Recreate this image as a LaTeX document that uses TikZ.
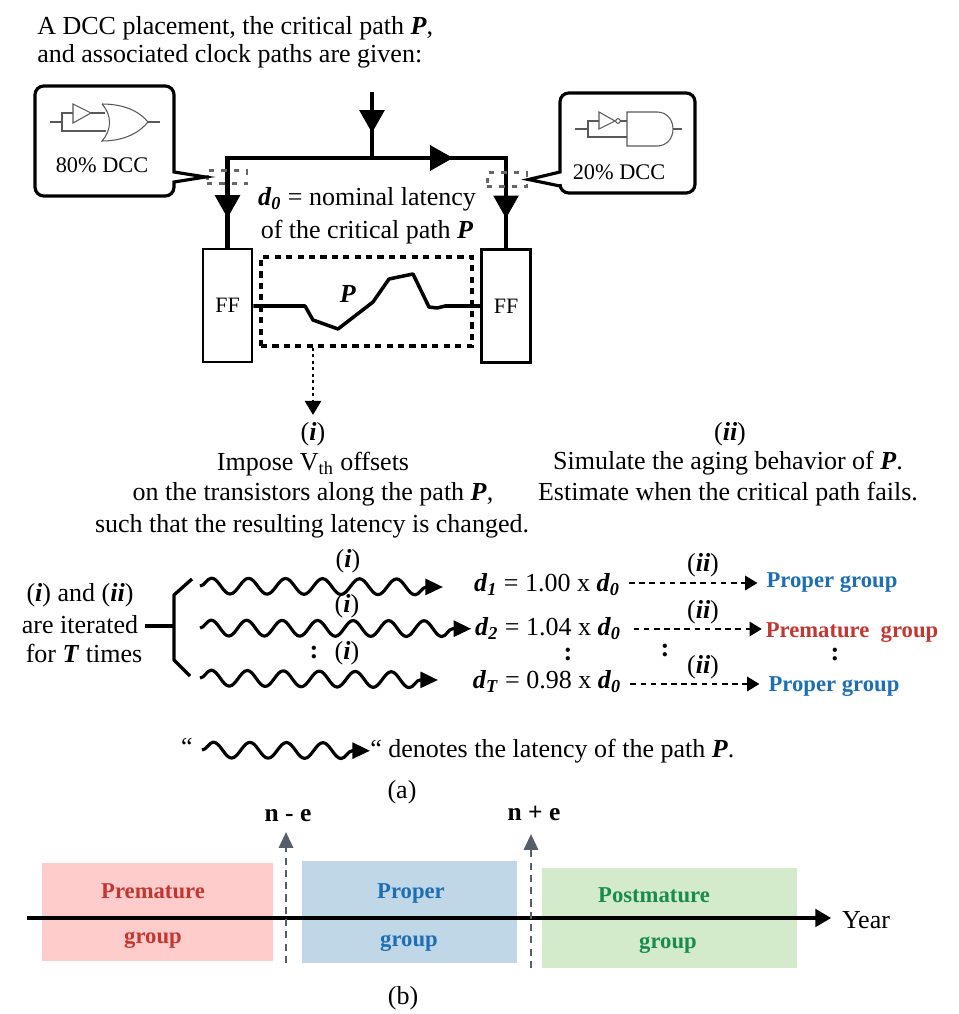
\documentclass[tikz,border=0pt]{standalone}
\usepackage{fontspec}
\setmainfont{Liberation Serif}
\usetikzlibrary{
  arrows.meta,
  decorations.pathmorphing,
  decorations.markings
}
\definecolor{propercol}{RGB}{30,110,180}
\definecolor{prematcol}{RGB}{195,55,50}
\definecolor{postcol}{RGB}{25,140,75}
\definecolor{prematfill}{RGB}{255,204,204}
\definecolor{properfill}{RGB}{192,215,231}
\definecolor{postfill}{RGB}{211,235,203}
\definecolor{markgray}{RGB}{85,95,105}
\newcommand{\bi}[1]{\textbf{\textit{#1}}}
\newcommand{\dsub}[1]{\bi{d}\textsubscript{\bi{#1}}}

\begin{document}
\begin{tikzpicture}[
  x=0.02cm, y=-0.02cm,
  txt/.style={inner sep=0pt, align=center, yshift=-1pt, font=\fontsize{14.8}{17}\selectfont},
  small/.style={inner sep=0pt, font=\fontsize{12.7}{15}\selectfont},
  grouplbl/.style={inner sep=0pt, yshift=-1.2pt, font=\fontsize{12.9}{15}\selectfont\bfseries},
  dots/.style={inner sep=0pt, font=\fontsize{15}{15}\selectfont\bfseries},
  ffbox/.style={draw, line width=1.6pt, minimum width=0.98cm, minimum height=2.26cm, inner sep=0pt},
  dccmark/.style={draw=black!60, line width=1.7pt, dash pattern=on 3pt off 4pt, minimum width=0.8cm, minimum height=0.27cm, inner sep=0pt},
  bubble/.style={line width=1.8pt, fill=white},
  gate/.style={draw=black!65, line width=0.6pt},
  wire/.style={line width=2.3pt},
  midtip/.style={postaction={decorate}, decoration={markings,
      mark=at position #1 with {\arrow{Triangle[length=13pt,width=14pt]}}}},
  wavy/.style={line width=1.8pt, line join=round, -{Triangle[length=10pt,width=9pt]},
      decoration={snake, amplitude=4.5pt, segment length=#1, post length=9pt}, decorate},
  dasharr/.style={line width=1.6pt, dash pattern=on 3.2pt off 2.6pt, -{Triangle[length=7pt,width=8pt]}},
  vmark/.style={draw=markgray, line width=1.6pt, dash pattern=on 4pt off 3pt,
      -{Triangle[length=9pt,width=8pt,fill=markgray]}}
]
\useasboundingbox (0,0) rectangle (959,1014);

% ── Heading ──
\node[txt, anchor=west] at (37,26) (head1) {A DCC placement, the critical path \bi{P},};
\node[txt, anchor=west] at (37,55) (head2) {and associated clock paths are given:};

% ── Flip-flops and path ──
\node[ffbox] at (227.5,305.5) (ffl) {\fontsize{12.5}{15}\selectfont FF};
\node[ffbox] at (506,306) (ffr) {\fontsize{12.5}{15}\selectfont FF};
\node[draw, line width=1.9pt, dash pattern=on 3.5pt off 3pt, minimum width=4.22cm, minimum height=1.78cm, inner sep=0pt]
  at (366.5,301.5) (pathbox) {};
\node[txt] at (348,292) (plabel) {\bi{P}};
\draw[line width=2pt, line join=round] (ffl.east |- 0,306) -- (305,306) -- (313,320) -- (338,329)
  -- (373,302) -- (389,279) -- (413,274) -- (429,307) -- (437,308) -- (445,306) -- (ffr.west |- 0,306);

% ── Clock tree ──
\coordinate (clkin) at (372,92);
\coordinate (clkmid) at (372,158);
\coordinate (jl) at (227.5,158);
\coordinate (jr) at (506,158);
\draw[wire, midtip=0.62] (clkin) -- (clkmid);
\draw[wire, line cap=rect, midtip=0.81] (jl) -- (jr);
\draw[wire, midtip=0.67] (jl) -- (ffl.north);
\draw[wire, midtip=0.67] (jr) -- (ffr.north);
\node[txt] at (367,198) (lat1) {\dsub{0} = nominal latency};
\node[txt] at (367,230) (lat2) {of the critical path \bi{P}};

% ── DCC callouts ──
\node[dccmark] at (227,177) (markl) {};
\node[dccmark] at (507,179.5) (markr) {};
\draw[bubble, rounded corners=5pt] (174,172) -- (174,86) -- (35,86) -- (35,196) -- (174,196)
  [sharp corners] -- (174,182) -- (markl.west) -- cycle;
\draw[bubble, rounded corners=5pt] (560,172) -- (560,93) -- (695,93) -- (695,193) -- (560,193)
  [sharp corners] -- (560,186) -- (markr.east) -- cycle;
\node[small] at (102,165) (dccl) {80\% DCC};
\node[small] at (619,172) (dccr) {20\% DCC};

% buffer + OR
\draw[gate] (50,122) -- (62,122) -- (62,113) -- (73,113);
\draw[gate] (62,122) -- (62,131) -- (106,131);
\draw[gate] (73,104) -- (73,123) -- (91,113) -- cycle;
\draw[gate] (91,113) -- (105,113);
\draw[gate] (102,104) .. controls (125,104) and (140,112) .. (148,122)
  .. controls (140,132) and (125,141) .. (102,141)
  .. controls (112,130) and (112,115) .. (102,104);
\draw[gate] (148,122) -- (160,122);

% inverter + AND
\draw[gate] (575,129) -- (588,129) -- (588,121) -- (599,121);
\draw[gate] (588,129) -- (588,137) -- (627,137);
\draw[gate] (599,112) -- (599,129) -- (615,121) -- cycle;
\draw[gate] (618,121) circle (2.3);
\draw[gate] (620.3,121) -- (627,121);
\draw[gate] (627,112) -- (657,112) .. controls (667,112) and (673,120) .. (673,129)
  .. controls (673,138) and (667,146) .. (657,146) -- (627,146) -- cycle;
\draw[gate] (673,129) -- (682,129);

% ── Steps ──
\draw[line width=1.7pt, dotted, -{Triangle[length=8pt,width=9pt]}] (pathbox.south -| 313,0) -- (313,415);
\node[txt] at (313,432) (stepa) {(\bi{i})};
\node[txt] at (313,462) (stepa1) {Impose V\textsubscript{th} offsets};
\node[txt] at (313,493) (stepa2) {on the transistors along the path \bi{P},};
\node[txt] at (312,525) (stepa3) {such that the resulting latency is changed.};
\node[txt] at (730,432) (stepb) {(\bi{ii})};
\node[txt] at (728,461) (stepb1) {Simulate the aging behavior of \bi{P}.};
\node[txt] at (728,492) (stepb2) {Estimate when the critical path fails.};

% ── Iterations ──
\node[txt] at (80,593) (iter1) {(\bi{i}) and (\bi{ii})};
\node[txt] at (80,623) (iter2) {are iterated};
\node[txt] at (84,652) (iter3) {for \bi{T} times};
\coordinate (brk) at (174,626);
\draw[line width=1.9pt, shorten <=4pt] (iter2.east |- brk) -- (brk);
\draw[line width=1.9pt, line join=round] (192,579) -- (174,595) -- (174,660) -- (190,676);

\coordinate (w1s) at (200,586);
\coordinate (w2s) at (200,628);
\coordinate (w3s) at (200,678);
\node[txt] at (547,583) (d1) {\dsub{1} = 1.00 x \dsub{0}};
\node[txt] at (548,627) (d2) {\dsub{2} = 1.04 x \dsub{0}};
\node[txt] at (547,680) (d3) {\dsub{T} = 0.98 x \dsub{0}};
\draw[wavy=0.74cm] (w1s) -- (443,587);
\draw[wavy=0.71cm, shorten >=2pt] (w2s) -- (d2.west);
\draw[wavy=0.72cm] (w3s) -- (438,680);
\node[txt] at (348,559) (ia) {(\bi{i})};
\node[txt] at (347,604) (ib) {(\bi{i})};
\node[txt] at (347,651) (ic) {(\bi{i})};
\node[dots] at (314,653) (dota) {:};
\node[dots] at (568,655) (dotb) {:};
\node[dots] at (665,651) (dotc) {:};
\node[dots] at (835,655) (dotd) {:};

\node[grouplbl, text=propercol] at (832,580) (g1) {Proper group};
\node[grouplbl, text=prematcol] at (852,630) (g2) {Premature\ \ group};
\node[grouplbl, text=propercol] at (834,684) (g3) {Proper group};
\draw[dasharr, shorten <=5pt, shorten >=5pt] (d1.east |- 0,583) -- (g1.west |- 0,583);
\draw[dasharr, shorten <=7pt, shorten >=2pt] (d2.east |- 0,629) -- (g2.west |- 0,629);
\draw[dasharr, shorten <=5pt, shorten >=5pt] (d3.east |- 0,684) -- (g3.west |- 0,684);
\node[txt] at (703,563) (iia) {(\bi{ii})};
\node[txt] at (703,610) (iib) {(\bi{ii})};
\node[txt] at (703,665) (iic) {(\bi{ii})};

% ── Legend of the wave ──
\node[txt] at (187,745) (lq) {“};
\coordinate (lw) at (202,750);
\node[txt, anchor=west] at (370,749) (ltext) {“ denotes the latency of the path \bi{P}.};
\draw[wavy=0.73cm] (lw) -- (ltext.west);
\node[txt] at (402,790) (capa) {(a)};

% ── Part (b) ──
\node[fill=prematfill, minimum width=4.62cm, minimum height=1.96cm, inner sep=0pt] at (157.5,912) (prem) {};
\node[fill=properfill, minimum width=4.3cm, minimum height=2.04cm, inner sep=0pt] at (409.5,912) (prop) {};
\node[fill=postfill, minimum width=5.1cm, minimum height=2cm, inner sep=0pt] at (669.5,918) (post) {};
\node[grouplbl, text=prematcol] at (153,889) (prem1) {Premature};
\node[grouplbl, text=prematcol] at (153,938) (prem2) {group};
\node[grouplbl, text=propercol] at (411,891) (prop1) {Proper};
\node[grouplbl, text=propercol] at (409,941) (prop2) {group};
\node[grouplbl, text=postcol] at (654,893) (post1) {Postmature};
\node[grouplbl, text=postcol] at (668,943) (post2) {group};
\node[txt] at (866,918) (year) {Year};
\coordinate (axstart) at (27,918);
\draw[line width=1.9pt, shorten >=6pt, -{Triangle[length=9pt,width=10pt]}] (axstart) -- (year.west |- axstart);
\node[grouplbl, text=black, font=\fontsize{14.5}{15}\selectfont\bfseries] at (288,813) (ne1) {n - e};
\node[grouplbl, text=black, font=\fontsize{14.5}{15}\selectfont\bfseries] at (534,811) (ne2) {n + e};
\coordinate (v1) at (286,963);
\coordinate (v2) at (531,968);
\draw[vmark] (v1) -- (286,832);
\draw[vmark] (v2) -- (531,834);
\node[txt] at (403,996) (capb) {(b)};

\end{tikzpicture}
\end{document}
